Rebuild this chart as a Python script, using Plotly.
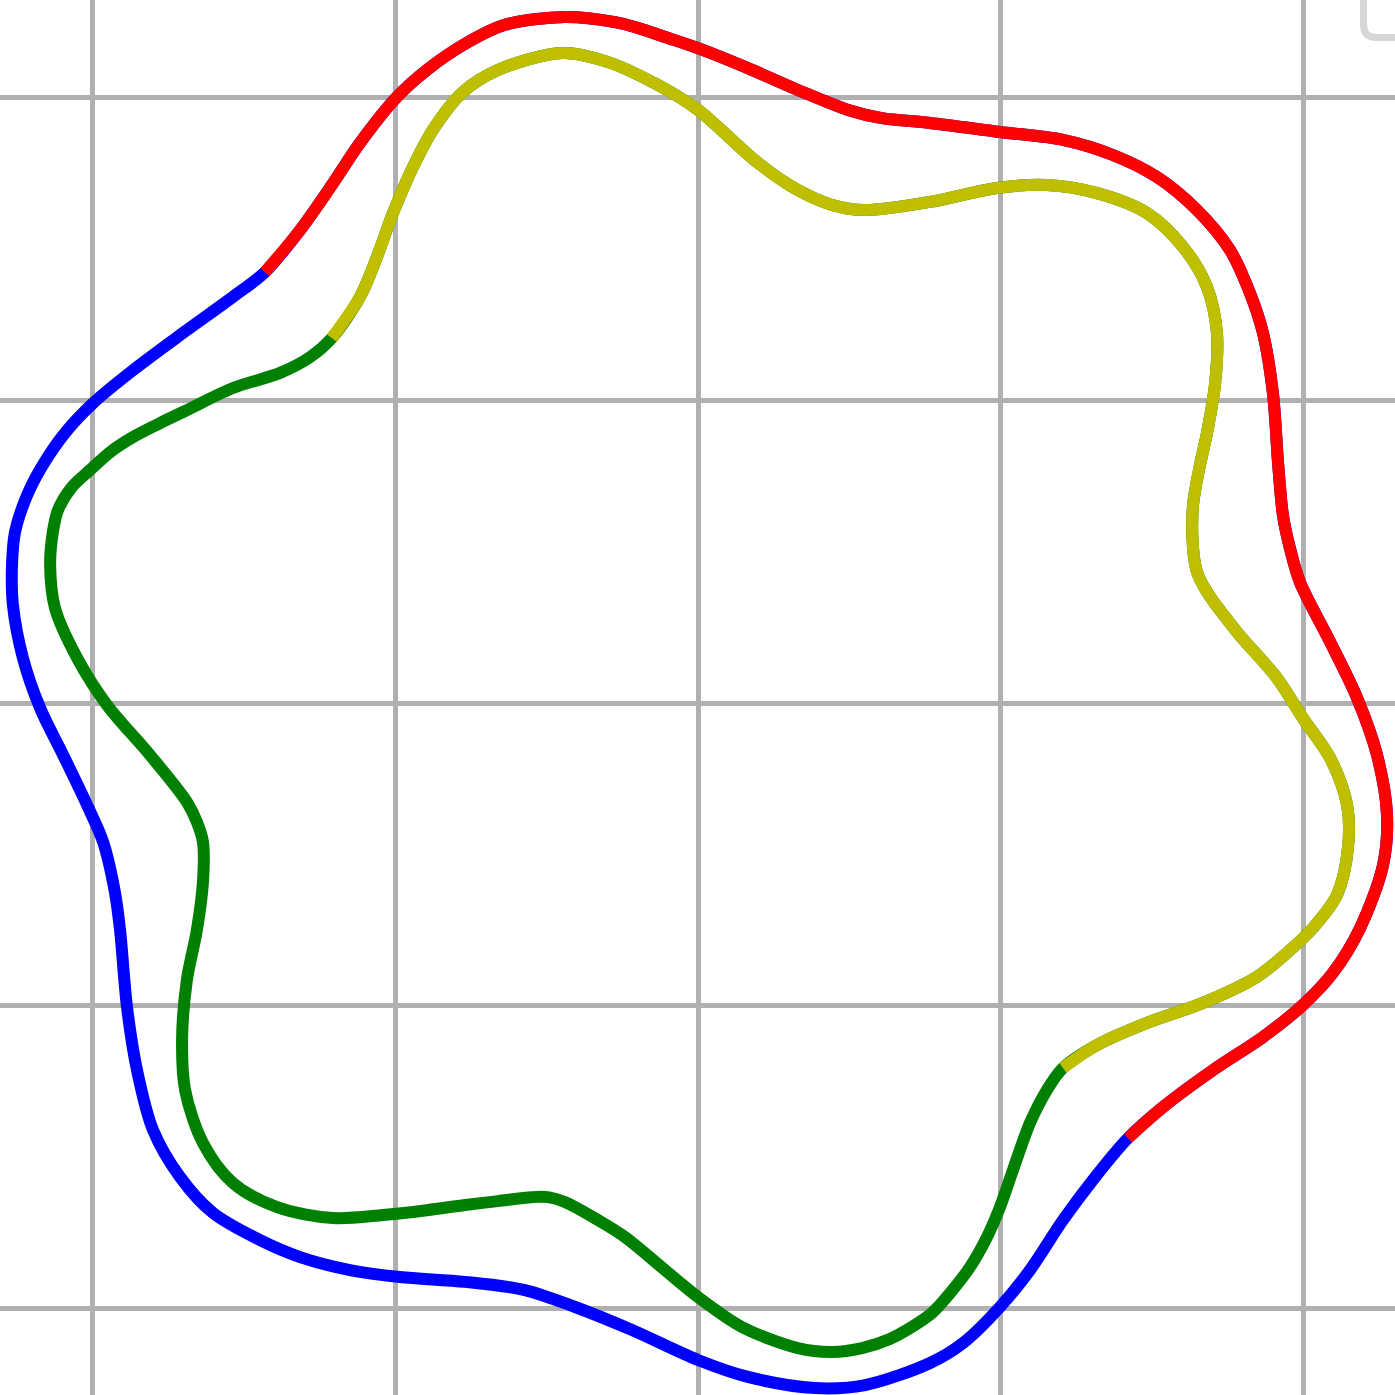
import plotly.graph_objects as go

# Outer curve: red half (upper-right), blue half (lower-left)
outer_red_x = [-1.431, -1.315, -1.206, -1.117, -0.995, -0.896, -0.777, -0.638, -0.440, -0.274,
               -0.198, -0.109, 0.000, 0.165, 0.330, 0.496, 0.608, 0.767, 0.998, 1.206,
               1.371, 1.517, 1.649, 1.758, 1.824, 1.867, 1.900, 1.917, 1.933, 1.956,
               1.989, 2.089, 2.178, 2.244, 2.277, 2.264, 2.188, 2.098, 1.999, 1.867,
               1.702, 1.537, 1.421]
outer_red_y = [1.424, 1.563, 1.718, 1.851, 2.003, 2.092, 2.174, 2.241, 2.267, 2.250,
               2.231, 2.201, 2.164, 2.098, 2.026, 1.960, 1.933, 1.917, 1.887, 1.861,
               1.811, 1.738, 1.629, 1.497, 1.355, 1.223, 1.024, 0.793, 0.621, 0.512,
               0.400, 0.202, 0.017, -0.172, -0.370, -0.535, -0.744, -0.892, -0.998, -1.104,
               -1.213, -1.335, -1.438]

outer_blue_x = [1.421, 1.305, 1.206, 1.097, 0.998, 0.876, 0.767, 0.552, 0.387, 0.165,
                0.000, -0.218, -0.406, -0.572, -0.770, -0.985, -1.150, -1.315, -1.447, -1.603,
                -1.712, -1.801, -1.854, -1.887, -1.910, -1.927, -1.966, -2.019, -2.098, -2.174,
                -2.231, -2.264, -2.267, -2.257, -2.217, -2.165, -2.089, -1.999, -1.867, -1.702,
                -1.537, -1.431]
outer_blue_y = [-1.438, -1.576, -1.709, -1.874, -1.996, -2.115, -2.181, -2.254, -2.264, -2.227,
                -2.171, -2.072, -1.996, -1.940, -1.913, -1.897, -1.874, -1.831, -1.775, -1.685,
                -1.566, -1.411, -1.213, -1.005, -0.750, -0.625, -0.459, -0.337, -0.172, -0.017,
                0.149, 0.324, 0.456, 0.565, 0.687, 0.787, 0.896, 0.991, 1.100, 1.223,
                1.342, 1.424]

# Inner curve: yellow half (upper-right), green half (lower-left)
inner_yellow_x = [-1.210, -1.117, -1.061, -1.008, -0.942, -0.876, -0.777, -0.661, -0.449, -0.297,
                  -0.132, 0.000, 0.198, 0.330, 0.443, 0.552, 0.767, 0.988, 1.153, 1.319,
                  1.484, 1.603, 1.682, 1.715, 1.709, 1.682, 1.659, 1.636, 1.636, 1.649,
                  1.682, 1.781, 1.913, 1.999, 2.089, 2.145, 2.148, 2.112, 2.032, 1.946,
                  1.847, 1.669, 1.484, 1.319, 1.206]
inner_yellow_y = [1.206, 1.342, 1.474, 1.619, 1.771, 1.894, 2.019, 2.092, 2.148, 2.118,
                  2.042, 1.960, 1.785, 1.695, 1.646, 1.629, 1.656, 1.702, 1.712, 1.685,
                  1.619, 1.507, 1.375, 1.223, 1.057, 0.892, 0.787, 0.654, 0.512, 0.433,
                  0.367, 0.235, 0.083, -0.050, -0.182, -0.337, -0.479, -0.634, -0.744, -0.826,
                  -0.905, -0.991, -1.057, -1.130, -1.206]

inner_green_x = [1.206, 1.153, 1.097, 1.041, 0.998, 0.955, 0.899, 0.833, 0.773, 0.707,
                 0.634, 0.542, 0.443, 0.330, 0.145, 0.000, -0.109, -0.241, -0.330, -0.440,
                 -0.496, -0.549, -0.661, -0.770, -0.896, -1.041, -1.206, -1.391, -1.537, -1.636,
                 -1.695, -1.705, -1.689, -1.656, -1.636, -1.636, -1.656, -1.689, -1.811, -1.953,
                 -2.052, -2.125, -2.141, -2.132, -2.115, -2.069, -2.009, -1.943, -1.867, -1.778,
                 -1.689, -1.537, -1.381, -1.282, -1.210]
inner_green_y = [-1.206, -1.279, -1.388, -1.543, -1.666, -1.765, -1.864, -1.950, -2.016, -2.062,
                 -2.102, -2.132, -2.145, -2.132, -2.062, -1.963, -1.874, -1.765, -1.709, -1.649,
                 -1.633, -1.633, -1.646, -1.659, -1.676, -1.692, -1.702, -1.666, -1.586, -1.454,
                 -1.279, -1.114, -0.915, -0.750, -0.592, -0.459, -0.393, -0.327, -0.172, -0.007,
                 0.149, 0.314, 0.456, 0.565, 0.638, 0.714, 0.770, 0.829, 0.879, 0.925,
                 0.968, 1.041, 1.091, 1.143, 1.206]

LW = 12
SPL = dict(shape="spline", smoothing=0.9)
fig = go.Figure()

# full outer loop in blue, red half on top
fig.add_trace(go.Scatter(x=outer_blue_x + outer_red_x[1:], y=outer_blue_y + outer_red_y[1:],
                         mode="lines", line=dict(color="#0000ff", width=LW, **SPL),
                         showlegend=False, hoverinfo="skip"))
fig.add_trace(go.Scatter(x=outer_red_x, y=outer_red_y,
                         mode="lines", line=dict(color="#ff0000", width=LW, **SPL),
                         showlegend=False, hoverinfo="skip"))
# full inner loop in green, yellow half on top
fig.add_trace(go.Scatter(x=inner_green_x + inner_yellow_x[1:], y=inner_green_y + inner_yellow_y[1:],
                         mode="lines", line=dict(color="#008000", width=LW, **SPL),
                         showlegend=False, hoverinfo="skip"))
fig.add_trace(go.Scatter(x=inner_yellow_x, y=inner_yellow_y,
                         mode="lines", line=dict(color="#bfbf00", width=LW, **SPL),
                         showlegend=False, hoverinfo="skip"))

axis_common = dict(showticklabels=False, ticks="", zeroline=False, showline=False,
                   showgrid=True, gridcolor="#b0b0b0", gridwidth=4.5, tick0=0, dtick=1)
fig.update_xaxes(range=[-2.3067, 2.3034], **axis_common)
fig.update_yaxes(range=[-2.2868, 2.3232], **axis_common)

# corner of the legend frame peeking in at top right
x0 = 1 - 31.5 / 1395
yb = 37.5 / 1395
r = 13 / 1395
fig.add_shape(type="path", xref="paper", yref="paper", layer="above",
              path=f"M {x0},1.05 L {x0},{1 - yb + r} Q {x0},{1 - yb} {x0 + r},{1 - yb} L 1.05,{1 - yb}",
              line=dict(color="#d6d6d6", width=7))

fig.update_layout(width=1395, height=1395, margin=dict(l=0, r=0, t=0, b=0),
                  plot_bgcolor="white", paper_bgcolor="white", showlegend=False)

fig.write_html("out.html", config={"displayModeBar": False})
